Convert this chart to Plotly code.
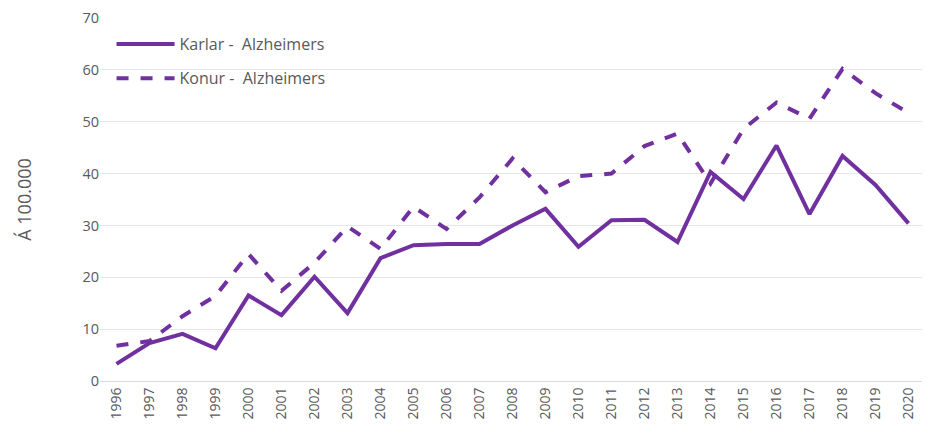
import plotly.graph_objects as go

years = [str(y) for y in range(1996, 2021)]
karlar = [3.3, 7.3, 9.1, 6.3, 16.5, 12.7, 20.1, 13.1, 23.7, 26.2, 26.4, 26.4, 30.0,
          33.2, 25.9, 31.0, 31.1, 26.8, 40.3, 35.1, 45.4, 32.2, 43.4, 37.8, 30.4]
konur = [6.8, 7.7, 12.5, 16.4, 24.5, 17.4, 22.8, 29.8, 25.5, 33.6, 29.3, 35.4, 42.9,
         36.4, 39.5, 40.0, 45.3, 47.7, 38.1, 48.6, 53.7, 50.6, 60.2, 55.5, 51.7]
y_ticks = [0, 10, 20, 30, 40, 50, 60, 70]

color = "#7030A0"
font_fam = "Open Sans, Liberation Sans, sans-serif"

fig = go.Figure()
fig.add_trace(go.Scatter(x=years, y=karlar, mode="lines", name="Karlar -  Alzheimers",
                         line=dict(color=color, width=4), legend="legend"))
fig.add_trace(go.Scatter(x=years, y=konur, mode="lines", name="Konur -  Alzheimers",
                         line=dict(color=color, width=4, dash="dash"), legend="legend2"))

leg_common = dict(xanchor="left", yanchor="middle", bgcolor="rgba(0,0,0,0)",
                  font=dict(size=16, color="#595959"), itemwidth=58)

fig.update_layout(
    width=922, height=427,
    margin=dict(l=92, r=5, t=10, b=54),
    plot_bgcolor="white", paper_bgcolor="white",
    font=dict(family=font_fam, color="#595959", size=15),
    showlegend=True,
    legend=dict(x=0.014, y=0.928, **leg_common),
    legend2=dict(x=0.014, y=0.834, **leg_common),
    xaxis=dict(type="category", range=[-0.5, 24.5], tickangle=-90,
               tickfont=dict(size=14), showgrid=False, showline=True,
               linecolor="#D9D9D9", linewidth=1, ticks="", automargin=False,
               ticklabeloverflow="allow"),
    yaxis=dict(range=[0, 70], tickvals=y_ticks, showgrid=True, gridcolor="#E6E6E6",
               zeroline=False, tickfont=dict(size=14.5), ticks="", ticklen=0,
               automargin=False, ticklabeloverflow="allow",
               title=dict(text="Á 100.000", font=dict(size=18), standoff=46)),
)

fig.write_html("out.html")
